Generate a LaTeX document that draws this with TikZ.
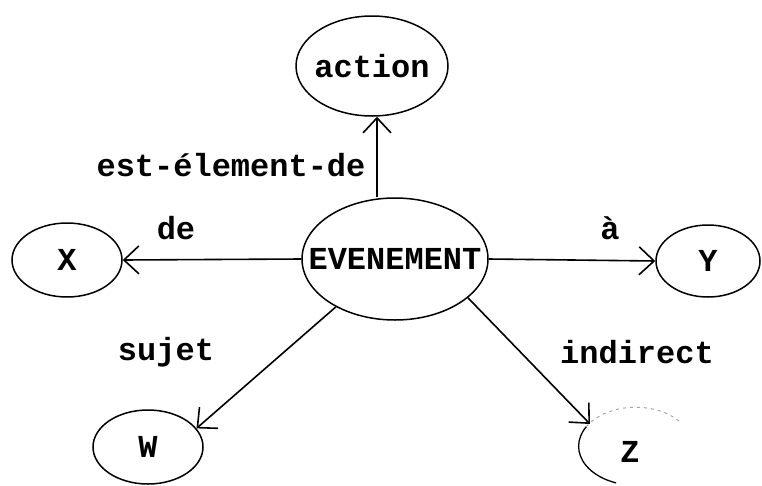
\documentclass[tikz,border=0pt]{standalone}
\usepackage{fontspec}
\setmonofont{Liberation Mono}
\usetikzlibrary{shapes.geometric,arrows.meta}
% zero-width box so the ellipse keeps its given size
\newcommand{\cword}[1]{\makebox[0pt]{#1}}
\begin{document}
\begin{tikzpicture}[x=1pt,y=-1pt,
  every node/.style={font=\fontsize{32}{34}\selectfont\ttfamily\bfseries},
  blob/.style={ellipse,draw,line width=1.5pt,inner sep=0pt},
  lab/.style={inner sep=0pt},
  arr/.style={line width=1.6pt,-{Straight Barb[length=15pt,width=28pt,line width=1.6pt]}}]
\useasboundingbox (0,0) rectangle (762,485);
% concept nodes
\node[blob,minimum width=152pt,minimum height=100pt] (act) at (372,66) {\cword{action}};
\node[blob,minimum width=186pt,minimum height=122pt] (ev) at (395,259) {\cword{EVENEMENT}};
\node[blob,minimum width=110pt,minimum height=74pt] (x) at (67,260) {\cword{X}};
\node[blob,minimum width=104pt,minimum height=72pt] (y) at (708,261) {\cword{Y}};
\node[blob,minimum width=110pt,minimum height=74pt] (w) at (148,447) {\cword{W}};
\node[ellipse,inner sep=0pt,minimum width=114pt,minimum height=78pt] (z) at (630,452) {\cword{Z}};
% the Z outline fades out on its right side
\draw[line width=1.3pt] (z.150) arc[start angle=150,end angle=250,x radius=57pt,y radius=39pt];
\draw[line width=1pt,black!35,dash pattern=on 3pt off 4pt] (z.150) arc[start angle=150,end angle=40,x radius=57pt,y radius=39pt];
% relations
\draw[arr] (ev.north -| 377,0) -- (act.south -| 377,0);
\draw[arr] (ev.west) -- (x.east);
\draw[arr] (ev.east) -- (y.west);
\draw[arr] (ev.219) -- (w.21);
\draw[arr] (ev.332) -- (z.145);
% relation labels
\node[lab] (l1) at (231,165) {est-élement-de};
\node[lab] (l2) at (176,228) {de};
\node[lab] (l3) at (610,228) {à};
\node[lab] (l4) at (166,352) {sujet};
\node[lab] (l5) at (637,352) {indirect};
\end{tikzpicture}
\end{document}
